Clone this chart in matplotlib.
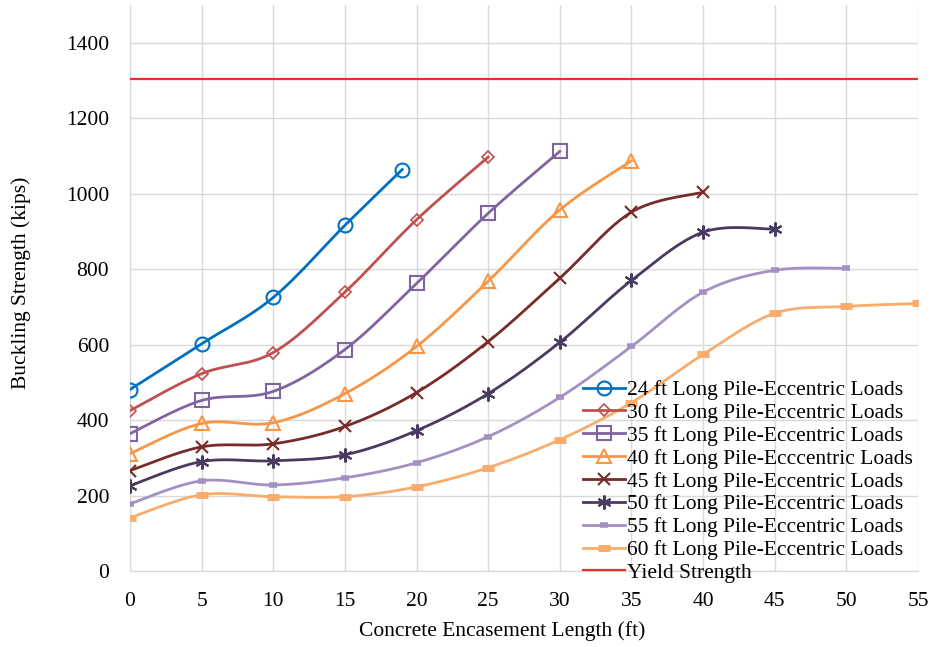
import numpy as np
import matplotlib
matplotlib.use("Agg")
import matplotlib.pyplot as plt

plt.rcParams['font.family'] = ['Liberation Serif', 'DejaVu Serif']

# Encasement lengths (ft) and buckling strength (kips) for each pile length
enc = [0, 5, 10, 15, 20, 25, 30, 35, 40, 45, 50, 55]

x24 = [0, 5, 10, 15, 19]
y24 = [481, 602, 725, 916, 1064]
y30 = [425, 523, 579, 739, 931, 1097]
y35 = [364, 452, 476, 587, 762, 948, 1112]
y40 = [311, 391, 393, 470, 595, 768, 957, 1087]
y45 = [266, 329, 337, 383, 473, 608, 776, 951, 1004]
y50 = [226, 290, 292, 308, 372, 470, 606, 770, 898, 906]
y55 = [178, 239, 228, 247, 287, 356, 460, 595, 739, 797, 802]
y60 = [141, 202, 197, 197, 223, 274, 348, 446, 574, 683, 701, 709]
yield_strength = 1305

labels = ["24 ft Long Pile-Eccentric Loads",
          "30 ft Long Pile-Eccentric Loads",
          "35 ft Long Pile-Eccentric Loads",
          "40 ft Long Pile-Ecccentric Loads",
          "45 ft Long Pile-Eccentric Loads",
          "50 ft Long Pile-Eccentric Loads",
          "55 ft Long Pile-Eccentric Loads",
          "60 ft Long Pile-Eccentric Loads"]

series = [
    (x24, y24, '#0070C0', dict(marker='o', ms=10, mfc='none', mew=1.5)),
    (enc[:6], y30, '#C0504D', dict(marker='D', ms=6.5, mfc='none', mew=1.2)),
    (enc[:7], y35, '#8064A2', dict(marker='s', ms=10, mfc='none', mew=1.5)),
    (enc[:8], y40, '#F79646', dict(marker='^', ms=10, mfc='none', mew=1.5)),
    (enc[:9], y45, '#772C2A', dict(marker='x', ms=9, mew=1.5)),
    (enc[:10], y50, '#4A3A60', dict(marker=(6, 2, 0), ms=10, mew=1.5)),
    (enc[:11], y55, '#A391C4', dict(marker='_', ms=6, mew=4)),
    (enc[:12], y60, '#F9AC6C', dict(marker='_', ms=9, mew=5)),
]


def smooth(x, y, n=30):
    """Bezier smoothing with Catmull-Rom style control points."""
    x = np.asarray(x, float)
    y = np.asarray(y, float)
    pts = np.column_stack([x, y])
    out = [pts[0]]
    m = len(pts)
    for i in range(m - 1):
        p0 = pts[i - 1] if i > 0 else pts[i]
        p1 = pts[i]
        p2 = pts[i + 1]
        p3 = pts[i + 2] if i + 2 < m else pts[i + 1]
        c1 = p1 + (p2 - p0) / 6.0
        c2 = p2 - (p3 - p1) / 6.0
        t = np.linspace(0, 1, n)[1:, None]
        seg = ((1 - t) ** 3) * p1 + 3 * ((1 - t) ** 2) * t * c1 + 3 * (1 - t) * t ** 2 * c2 + t ** 3 * p2
        out.extend(seg)
    out = np.array(out)
    return out[:, 0], out[:, 1]


FS = 15.5
W, H = 938, 647

fig = plt.figure(figsize=(W / 100, H / 100), dpi=100)
ax = fig.add_axes([130 / W, (H - 571) / H, 788 / W, 566 / H])

handles = []
for (xs, ys, col, mk), lab in zip(series, labels):
    sx, sy = smooth(xs, ys)
    ax.plot(sx, sy, color=col, lw=2, zorder=3)
    ax.plot(xs, ys, linestyle='none', color=col, mec=col, zorder=4, **mk)
    h, = ax.plot([], [], color=col, mec=col, lw=2, label=lab, **mk)
    handles.append(h)

hy, = ax.plot([0, 55], [yield_strength, yield_strength], color='#E8312F', lw=1.6,
              label='Yield Strength', zorder=3)
handles.append(hy)

ax.set_xlim(0, 55)
ax.set_ylim(0, 1500)
ax.set_xticks(range(0, 56, 5))
ax.set_yticks(range(0, 1401, 200))
ax.grid(True, color='#D9D9D9', lw=1)
ax.set_axisbelow(True)
ax.tick_params(length=0, labelsize=FS)
ax.tick_params(axis='x', pad=15)
ax.tick_params(axis='y', pad=15)
for s in ['top', 'right']:
    ax.spines[s].set_visible(False)
for s in ['left', 'bottom']:
    ax.spines[s].set_color('#D9D9D9')

fig.text(502 / W, (H - 631) / H, 'Concrete Encasement Length (ft)', fontsize=FS,
         ha='center', va='center')
fig.text(21 / W, (H - 283) / H, 'Buckling Strength (kips)', fontsize=FS,
         ha='center', va='center', rotation=90)

fig.legend(handles=handles, loc='lower left', bbox_to_anchor=(583 / W, 64 / H),
           frameon=False, fontsize=FS, labelspacing=0.13, handlelength=1.95,
           handletextpad=0.1, borderaxespad=0, borderpad=0)

fig.savefig('out.png', dpi=100)
